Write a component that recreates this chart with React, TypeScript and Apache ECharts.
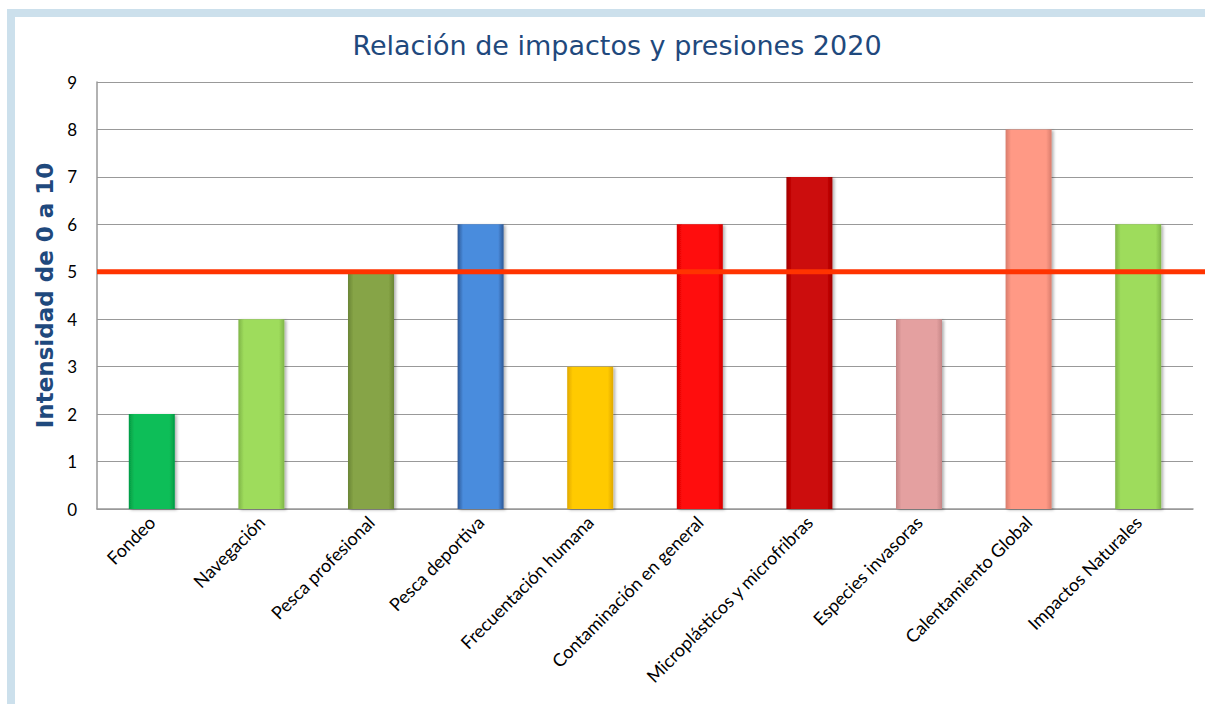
import React, { useEffect, useRef } from "react";
import * as echarts from "echarts";

const categories = [
  "Fondeo",
  "Navegación",
  "Pesca profesional",
  "Pesca deportiva",
  "Frecuentación humana",
  "Contaminación en general",
  "Microplásticos y microfribras",
  "Especies invasoras",
  "Calentamiento Global",
  "Impactos Naturales",
];
const values = [2, 4, 5, 6, 3, 6, 7, 4, 8, 6];
const barColors = [
  ["#0CBE58", "#049A44"],
  ["#9EDC5C", "#7FB548"],
  ["#86A446", "#6A8536"],
  ["#4A8CDD", "#2C5896"],
  ["#FFCA05", "#E0A800"],
  ["#FF0A0A", "#D50000"],
  ["#CC0808", "#A00000"],
  ["#E4A0A0", "#C58686"],
  ["#FF9985", "#D87C6C"],
  ["#9EDC5C", "#7FB548"],
];
const threshold = 5;
const yTicks = { min: 0, max: 9, interval: 1 };

export default function App() {
  const ref = useRef<HTMLDivElement>(null);
  useEffect(() => {
    if (!ref.current) return;
    const chart = echarts.init(ref.current, null, { renderer: "svg" });
    const barData = values.map((v, i) => ({
      value: v,
      itemStyle: {
        color: new echarts.graphic.LinearGradient(0, 0, 1, 0, [
          { offset: 0, color: barColors[i][1] },
          { offset: 0.12, color: barColors[i][0] },
          { offset: 0.88, color: barColors[i][0] },
          { offset: 1, color: barColors[i][1] },
        ]),
        shadowBlur: 3,
        shadowColor: "rgba(0,0,0,0.3)",
        shadowOffsetX: 2,
        shadowOffsetY: 1,
      },
    }));
    chart.setOption({
      animation: false,
      backgroundColor: "#ffffff",
      title: {
        text: "Relación de impactos y presiones 2020",
        left: 612,
        textAlign: "center",
        top: 27,
        textStyle: {
          fontFamily: "DejaVu Sans",
          fontSize: 27,
          fontWeight: "normal",
          color: "#1F497D",
        },
      },
      graphic: [
        { type: "rect", shape: { x: 7, y: 9, width: 1198, height: 8 }, style: { fill: "#CCE0EC" }, silent: true },
        { type: "rect", shape: { x: 7, y: 9, width: 8, height: 695 }, style: { fill: "#CCE0EC" }, silent: true },
      ],
      grid: [
        { left: 97, top: 82, width: 1096, height: 427 },
        { left: 97, top: 82, width: 1108, height: 427 },
      ],
      xAxis: [
        {
          type: "category",
          data: categories,
          gridIndex: 0,
          axisLine: { show: true, lineStyle: { color: "#999999", width: 1.5 } },
          axisTick: { show: false },
          axisLabel: {
            rotate: 45,
            interval: 0,
            fontFamily: "Lato",
            fontSize: 18,
            color: "#000000",
            margin: 10,
          },
        },
        { type: "value", gridIndex: 1, min: 0, max: 1, show: false },
      ],
      yAxis: [
        {
          type: "value",
          gridIndex: 0,
          min: yTicks.min,
          max: yTicks.max,
          interval: yTicks.interval,
          name: "Intensidad de 0 a 10",
          nameLocation: "middle",
          nameGap: 34,
          nameTextStyle: {
            fontFamily: "DejaVu Sans",
            fontSize: 23,
            fontWeight: "bold",
            color: "#1F497D",
          },
          axisLine: { show: true, lineStyle: { color: "#999999", width: 1.5 } },
          axisTick: { show: false },
          axisLabel: { fontFamily: "Lato", fontSize: 17, color: "#000000", margin: 20 },
          splitLine: { lineStyle: { color: "#999999", width: 1.2 } },
        },
        {
          type: "value",
          gridIndex: 1,
          min: yTicks.min,
          max: yTicks.max,
          show: false,
          splitLine: { show: false },
        },
      ],
      series: [
        {
          type: "bar",
          xAxisIndex: 0,
          yAxisIndex: 0,
          data: barData,
          barWidth: 46,
          z: 2,
        },
        {
          type: "line",
          xAxisIndex: 1,
          yAxisIndex: 1,
          data: [
            [0, threshold],
            [1, threshold],
          ],
          symbol: "none",
          lineStyle: { color: "#FF3300", width: 5 },
          z: 5,
        },
      ],
    });
    return () => chart.dispose();
  }, []);
  return (
    <div
      ref={ref}
      style={{ position: "absolute", left: 0, top: 0, width: 1205, height: 704 }}
    />
  );
}
